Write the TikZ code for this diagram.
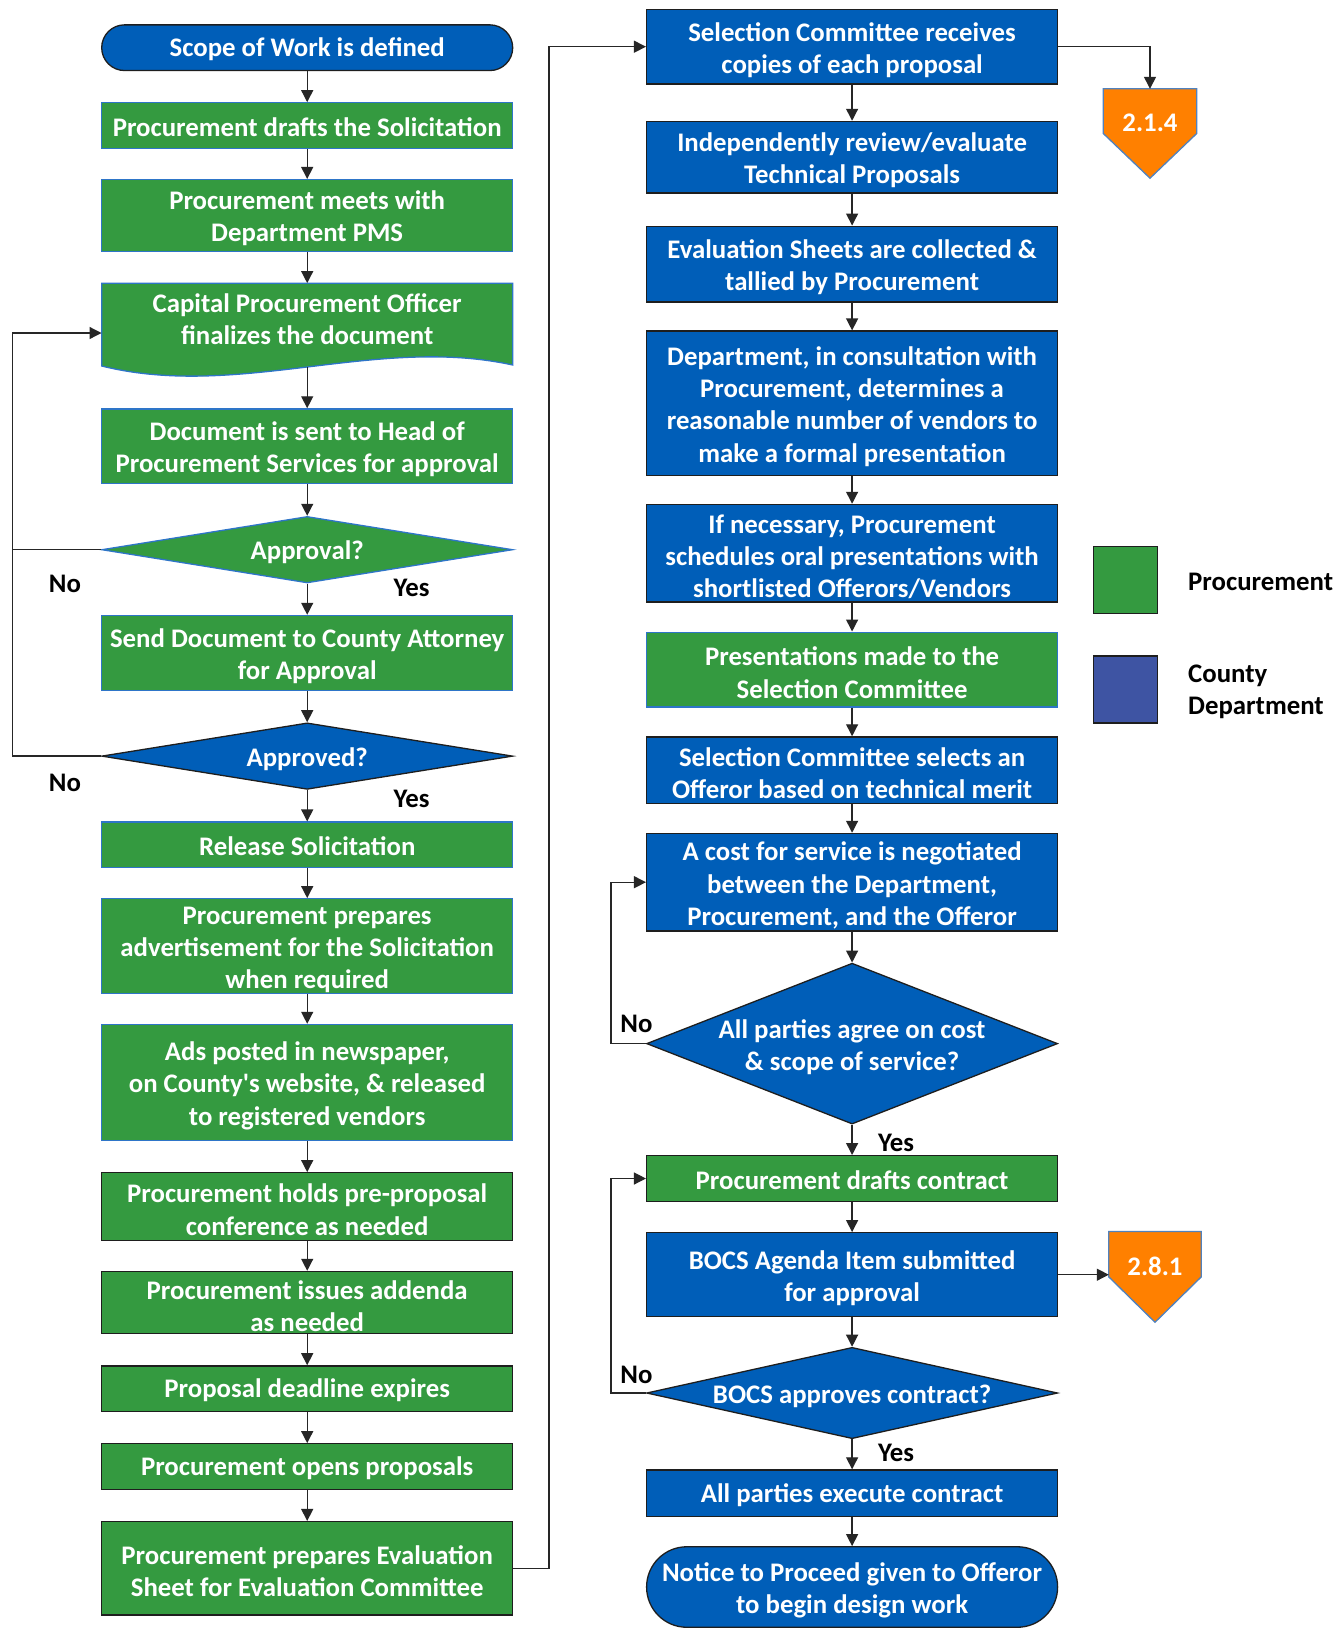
\documentclass[tikz,border=0pt]{standalone}
\usepackage{fontspec}
\setmainfont{Carlito}
\usetikzlibrary{arrows.meta,shapes.geometric}

\definecolor{pgreen}{RGB}{52,154,64}
\definecolor{pblue}{RGB}{0,94,184}
\definecolor{porange}{RGB}{255,128,0}
\definecolor{pindigo}{RGB}{62,84,163}
\definecolor{gline}{RGB}{46,117,200}
\definecolor{dline}{RGB}{30,30,30}
\definecolor{oline}{RGB}{80,130,190}

\newcommand\boxfont{\fontsize{26.8}{32.2}\selectfont\bfseries}
% invisible struts that set the vertical placement of text in the shapes
\newcommand\oneline{\rule{0pt}{21.8pt}}
\newcommand\diatext{\rule{0pt}{24.2pt}}
\newcommand\ml{\rule{0pt}{25.2pt}}

\tikzset{
  every node/.style={font=\boxfont},
  box/.style={draw, line width=1.3pt, text=white, align=center,
              minimum width=411pt, inner sep=0pt, execute at begin node=\oneline},
  gA/.style={box, fill=pgreen, draw=gline},
  gB/.style={box, fill=pgreen, draw=dline},
  bx/.style={box, fill=pblue, draw=dline},
  term/.style={bx},
  dia/.style={diamond, draw, line width=1.3pt, minimum width=411pt, inner sep=0pt},
  wtext/.style={text=white, align=center, inner sep=0pt, execute at begin node=\diatext},
  lbl/.style={text=black, inner sep=0pt},
  conn/.style={draw=black!85, line width=1.3pt},
  arr/.style={conn, -{Triangle[length=12pt,width=12pt]}},
  offp/.style={fill=porange, draw=oline, line width=1.3pt},
  legbox/.style={draw=dline, line width=1.3pt, minimum width=64pt,
                 minimum height=67pt, inner sep=0pt},
}

\begin{document}
\begin{tikzpicture}[x=1pt,y=-1pt]
\fill[white] (0,0) rectangle (1342,1628);
\useasboundingbox (0,0) rectangle (1342,1628);

% ---------- left column ----------
\node[term, minimum height=45.7, rounded corners=22.85] (L1) at (307.2,47.7) {Scope of Work is defined};
\node[gA, minimum height=45.6] (L2) at (307.2,125.6) {Procurement drafts the Solicitation};
\node[gA, minimum height=71.6] (L3) at (307.2,215.4) {\ml Procurement meets with\\Department PMS};

% document shape with wavy lower edge
\filldraw[fill=pgreen, draw=gline, line width=1.3pt]
  (101.7,283.3) -- (512.7,283.3) -- (512.7,365)
  .. controls (375.7,335) and (238.7,400) .. (101.7,366) -- cycle;
\node[minimum width=411, minimum height=99.4, inner sep=0pt] (L4) at (307.2,333) {};
\node[wtext] (L4t) at (307.2,316) {\ml Capital Procurement Officer\\finalizes the document};
\coordinate (L4w) at (307.2,367);

\node[gA, minimum height=74.8] (L5) at (307.2,446.3) {\ml Document is sent to Head of\\Procurement Services for approval};
\node[dia, fill=pgreen, draw=gline, minimum height=66.5] (L6) at (307.2,549.7) {};
\node[wtext] (L6t) at (L6) {Approval?};
\node[gA, minimum height=74.7] (L7) at (307.2,652.8) {\ml Send Document to County Attorney\\for Approval};
\node[dia, fill=pblue, draw=dline, minimum height=66.5] (L8) at (307.2,756.1) {};
\node[wtext] (L8t) at (L8) {Approved?};
\node[gA, minimum height=45.7] (L9) at (307.2,844.9) {Release Solicitation};
\node[gA, minimum height=94.5] (L10) at (307.2,946) {\ml Procurement prepares\\advertisement for the Solicitation\\when required};
\node[gA, minimum height=116.3] (L11) at (307.2,1082.6) {\ml Ads posted in newspaper,\\on County\textquotesingle s website, \& released\\to registered vendors};
\node[gB, minimum height=67.5] (L12) at (307.2,1206.5) {\ml Procurement holds pre-proposal\\conference as needed};
\node[gB, minimum height=62.3] (L13) at (307.2,1302.6) {\ml Procurement issues addenda\\as needed};
\node[gB, minimum height=45.7] (L14) at (307.2,1388.7) {Proposal deadline expires};
\node[gB, minimum height=45.7] (L15) at (307.2,1466.6) {Procurement opens proposals};
\node[gB, minimum height=93.4] (L16) at (307.2,1568.3) {\ml Procurement prepares Evaluation\\Sheet for Evaluation Committee};

% ---------- right column ----------
\node[bx, minimum height=74.7] (R1) at (852.1,46.7) {\ml Selection Committee receives\\copies of each proposal};
\node[bx, minimum height=71.6] (R2) at (852.1,157.2) {\ml Independently review/evaluate\\Technical Proposals};
\node[bx, minimum height=75.8] (R3) at (852.1,264.1) {\ml Evaluation Sheets are collected \&\\tallied by Procurement};
\node[bx, minimum height=144.3] (R4) at (852.1,403.2) {\ml Department, in consultation with\\Procurement, determines a\\reasonable number of vendors to\\make a formal presentation};
\node[bx, minimum height=97.6] (R5) at (852.1,553.2) {\ml If necessary, Procurement\\schedules oral presentations with\\shortlisted Offerors/Vendors};
\node[gA, minimum height=74.7] (R6) at (852.1,669.5) {\ml Presentations made to the\\Selection Committee};
\node[bx, minimum height=66.4] (R7) at (852.1,770.1) {\ml Selection Committee selects an\\Offeror based on technical merit};
\node[bx, minimum height=97.6] (R8) at (852.1,882.2) {\ml A cost for service is negotiated\\between the Department,\\Procurement, and the Offeror};
\node[dia, fill=pblue, draw=dline, minimum height=160.9] (R9) at (852.1,1043.6) {};
\node[wtext] (R9t) at (R9) {\ml All parties agree on cost\\\& scope of service?};
\node[gB, minimum height=45.7] (R10) at (852.1,1178.5) {Procurement drafts contract};
\node[bx, minimum height=84] (R11) at (852.1,1274.7) {\ml BOCS Agenda Item submitted\\for approval};
\node[dia, fill=pblue, draw=dline, minimum height=91.3] (R12) at (852.1,1393) {};
\node[wtext] (R12t) at (R12) {BOCS approves contract?};
\node[bx, minimum height=46.7] (R13) at (852.1,1493.3) {All parties execute contract};
\node[term, minimum height=80.5, rounded corners=40.2] (R14) at (852.1,1587) {\ml Notice to Proceed given to Offeror\\to begin design work};

% ---------- off-page references ----------
\node[minimum width=93, minimum height=89, inner sep=0pt] (O1) at (1150,133.5) {};
\filldraw[offp] (O1.north west) -- (O1.north east) -- (O1.east) -- (O1.south) -- (O1.west) -- cycle;
\node[wtext] (O1t) at (1150,119) {2.1.4};
\node[minimum width=92, minimum height=90.3, inner sep=0pt] (O2) at (1155,1276.9) {};
\filldraw[offp] (O2.north west) -- (O2.north east) -- (O2.east) -- (O2.south) -- (O2.west) -- cycle;
\node[wtext] (O2t) at (1155,1263) {2.8.1};

% ---------- legend ----------
\node[legbox, fill=pgreen] (lg1) at (1125.5,580.3) {};
\node[lbl, anchor=west] (lg1t) at (1188,582) {Procurement};
\node[legbox, fill=pindigo] (lg2) at (1125.5,689.5) {};
\node[lbl, anchor=west, align=left] (lg2t) at (1188,691.5) {County\\Department};

% ---------- branch labels ----------
\node[lbl] (no1) at (65,584) {No};
\node[lbl] (yes1) at (411.5,588) {Yes};
\node[lbl] (no2) at (65,783) {No};
\node[lbl] (yes2) at (411.5,799) {Yes};
\node[lbl] (no3) at (636.5,1024) {No};
\node[lbl] (yes3) at (896,1143) {Yes};
\node[lbl] (no4) at (636.5,1375) {No};
\node[lbl] (yes4) at (896,1453) {Yes};

% ---------- connectors ----------
\coordinate (lb) at (12.5,0);
\coordinate (mid) at (549,0);
\coordinate (rb) at (611,0);

\draw[arr] (L1) -- (L2);
\draw[arr] (L2) -- (L3);
\draw[arr] (L3) -- (L4.north);
\draw[arr] (L4w) -- (L5);
\draw[arr] (L5) -- (L6);
\draw[arr] (L6) -- (L7);
\draw[arr] (L7) -- (L8);
\draw[arr] (L8) -- (L9);
\draw[arr] (L9) -- (L10);
\draw[arr] (L10) -- (L11);
\draw[arr] (L11) -- (L12);
\draw[arr] (L12) -- (L13);
\draw[arr] (L13) -- (L14);
\draw[arr] (L14) -- (L15);
\draw[arr] (L15) -- (L16);

\draw[arr] (L6.west) -- (L6.west -| lb) |- (L4.west);
\draw[conn] (L8.west) -- (L8.west -| lb) -- (L6.west -| lb);
\draw[arr] (L16.east) -- (L16.east -| mid) |- (R1.west);

\draw[arr] (R1) -- (R2);
\draw[arr] (R2) -- (R3);
\draw[arr] (R3) -- (R4);
\draw[arr] (R4) -- (R5);
\draw[arr] (R5) -- (R6);
\draw[arr] (R6) -- (R7);
\draw[arr] (R7) -- (R8);
\draw[arr] (R8) -- (R9);
\draw[arr] (R9) -- (R10);
\draw[arr] (R10) -- (R11);
\draw[arr] (R11) -- (R12);
\draw[arr] (R12) -- (R13);
\draw[arr] (R13) -- (R14);

\draw[arr] (R9.west) -- (R9.west -| rb) |- (R8.west);
\draw[arr] (R12.west) -- (R12.west -| rb) |- (R10.west);
\draw[arr] (R1.east) -| (O1.north);
\draw[arr] (R11.east) -- (R11.east -| O2.west);
\end{tikzpicture}
\end{document}
